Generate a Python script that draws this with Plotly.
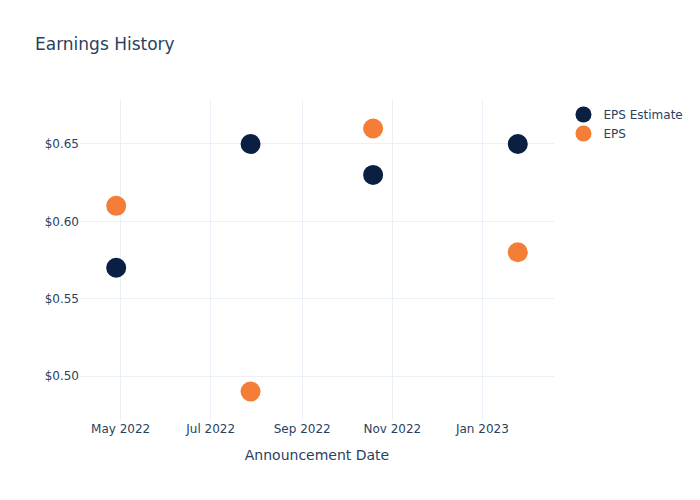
import plotly.graph_objects as go

dates = ["2022-04-28", "2022-07-28", "2022-10-19", "2023-01-25"]
eps_estimate = [0.57, 0.65, 0.63, 0.65]
eps_actual = [0.61, 0.49, 0.66, 0.58]

fig = go.Figure()
fig.add_trace(go.Scatter(x=dates, y=eps_estimate, mode="markers", name="EPS Estimate",
                         marker=dict(color="#0a1f41", size=20)))
fig.add_trace(go.Scatter(x=dates, y=eps_actual, mode="markers", name="EPS",
                         marker=dict(color="#f47e37", size=20)))
fig.update_layout(
    template="plotly_white",
    width=700, height=500,
    font=dict(family="DejaVu Sans"),
    title=dict(text="Earnings History"),
    xaxis=dict(title=dict(text="Announcement Date")),
    yaxis=dict(tickprefix="$", tickformat=".2f"),
)
fig.write_html("out.html", config={"displayModeBar": False},
               post_script="document.body.style.margin='0';")
